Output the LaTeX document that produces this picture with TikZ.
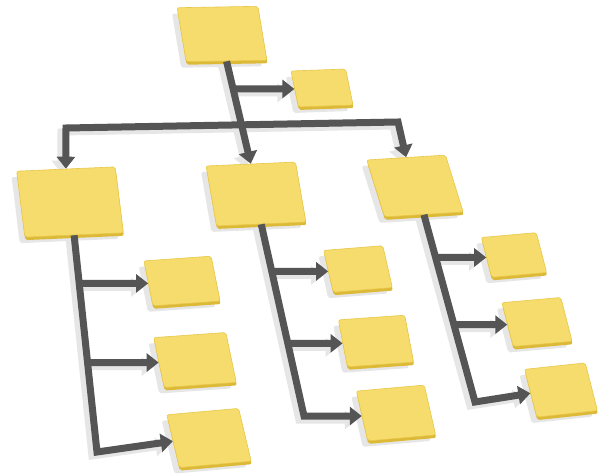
\documentclass[tikz,border=0pt]{standalone}
\usetikzlibrary{arrows.meta,calc,shadows}
\definecolor{boxface}{HTML}{F6DC6C}
\definecolor{boxline}{HTML}{E8C84A}
\definecolor{boxside}{HTML}{DDB938}
\definecolor{conncol}{HTML}{555555}
\definecolor{shadecol}{HTML}{E6E6E6}
\pgfdeclarelayer{shadowlayer}
\pgfsetlayers{shadowlayer,main}
\tikzset{
  box/.style={fill=boxface, draw=boxline, line width=0.6pt, inner sep=0pt,
    rounded corners=2pt,
    general shadow={fill=shadecol, shadow xshift=-5pt, shadow yshift=-6pt},
    general shadow={fill=boxside, shadow xshift=0.5pt, shadow yshift=-3pt}},
  conn/.style={draw=conncol, line width=7pt, line join=miter,
    -{Triangle[length=12pt,width=18pt]}},
  bar/.style={draw=conncol, line width=7pt, line join=miter,
    {Triangle[length=12pt,width=18pt]}-{Triangle[length=12pt,width=18pt]}},
  connshade/.style={draw=shadecol, transform canvas={shift={(-5pt,-4pt)}}}
}
\newcommand{\onstem}[3]{(intersection cs:first line={(#1)--(#2)}, second line={(#3)--($(#3)+(-60,0)$)})}
\newcommand{\connect}[2]{%
  \begin{pgfonlayer}{shadowlayer}\draw[#1, connshade] #2;\end{pgfonlayer}
  \draw[#1] #2;}
\begin{document}
\begin{tikzpicture}[x=1pt,y=-1pt]
\begin{pgfonlayer}{shadowlayer}
\useasboundingbox[fill=white] (0,0) rectangle (602,476);
\end{pgfonlayer}
% top level
\node[box, minimum width=81pt, minimum height=54pt, xslant=-0.15, rotate=1] (T) at (222,34) {};
\node[box, minimum width=55pt, minimum height=36pt, xslant=-0.17, rotate=2] (S) at (322,88) {};
% level 2
\node[box, minimum width=99pt, minimum height=66pt, xslant=-0.08, rotate=2.5] (L) at (70,202) {};
\node[box, minimum width=90pt, minimum height=60pt, xslant=-0.13, rotate=2.5] (M) at (256,194) {};
\node[box, minimum width=80pt, minimum height=57pt, xslant=-0.25, rotate=3.5] (R) at (415,186) {};
% level 3 left
\node[box, minimum width=68pt, minimum height=45pt, xslant=-0.13, rotate=4] (L1) at (182,281) {};
\node[box, minimum width=73pt, minimum height=50pt, xslant=-0.14, rotate=4] (L2) at (195,360) {};
\node[box, minimum width=73pt, minimum height=53pt, xslant=-0.15, rotate=5] (L3) at (209,438) {};
% level 3 middle
\node[box, minimum width=60pt, minimum height=42pt, xslant=-0.15, rotate=4.5] (M1) at (358,269) {};
\node[box, minimum width=67pt, minimum height=47pt, xslant=-0.12, rotate=4] (M2) at (376,341) {};
\node[box, minimum width=69pt, minimum height=50pt, xslant=-0.14, rotate=5] (M3) at (396,413) {};
% level 3 right
\node[box, minimum width=56pt, minimum height=40pt, xslant=-0.17, rotate=5] (R1) at (514,255) {};
\node[box, minimum width=60pt, minimum height=44pt, xslant=-0.17, rotate=5] (R2) at (537,322) {};
\node[box, minimum width=62pt, minimum height=48pt, xslant=-0.15, rotate=6] (R3) at (561,390) {};
% corner coordinates
\coordinate (barL) at (66,128);
\coordinate (barR) at (398,122);
\coordinate (Lc) at (97,452);
\coordinate (Mc) at (304,416);
\coordinate (Rc) at (475,402);
% top connectors
\connect{bar}{(L.north) -- (barL) -- (barR) -- (R.north)}
\connect{conn}{(T.south) -- (M.north)}
\connect{conn}{($(T.south)!0.27!(M.north)$) -- (S.west)}
% left group
\connect{conn}{(L.south) -- (Lc) -- (L3.west)}
\connect{conn}{\onstem{L.south}{Lc}{L1.west} -- (L1.west)}
\connect{conn}{\onstem{L.south}{Lc}{L2.west} -- (L2.west)}
% middle group
\connect{conn}{(M.south) -- (Mc) -- (M3.west)}
\connect{conn}{\onstem{M.south}{Mc}{M1.west} -- (M1.west)}
\connect{conn}{\onstem{M.south}{Mc}{M2.west} -- (M2.west)}
% right group
\connect{conn}{(R.south) -- (Rc) -- (R3.west)}
\connect{conn}{\onstem{R.south}{Rc}{R1.west} -- (R1.west)}
\connect{conn}{\onstem{R.south}{Rc}{R2.west} -- (R2.west)}
\end{tikzpicture}
\end{document}
